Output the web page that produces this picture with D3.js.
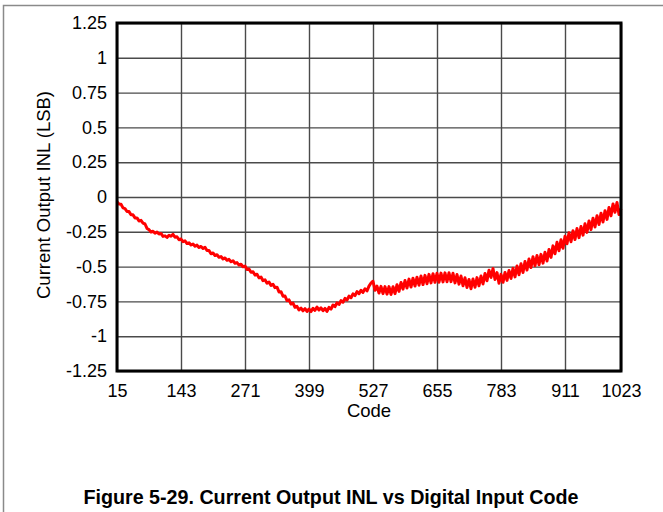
<!DOCTYPE html>
<html>
<head>
<meta charset="utf-8">
<script src="https://cdn.jsdelivr.net/npm/d3@7"></script>
<style>
  body { margin: 0; background: #fff; }
  text { font-family: "Liberation Sans", Arial, sans-serif; fill: #000; }
</style>
</head>
<body>
<div id="chart"></div>
<script>
// Current Output INL vs Digital Input Code

// tick values
var xTicks = [15, 143, 271, 399, 527, 655, 783, 911, 1023];
var yTicks = [-1.25, -1, -0.75, -0.5, -0.25, 0, 0.25, 0.5, 0.75, 1, 1.25];

// codes measured, every 4th code from 15 to 1023
var codeStart = 15;
var codeStep = 4;

// INL (LSB), one per code above
var inl = [
  -0.035, -0.050, -0.052, -0.078, -0.083, -0.104, -0.105, -0.128, -0.128, -0.150,
  -0.150, -0.172, -0.168, -0.188, -0.194, -0.226, -0.234, -0.252, -0.246, -0.260,
  -0.252, -0.266, -0.262, -0.283, -0.279, -0.290, -0.275, -0.282, -0.268, -0.289,
  -0.286, -0.307, -0.302, -0.321, -0.315, -0.334, -0.329, -0.345, -0.338, -0.354,
  -0.346, -0.363, -0.355, -0.370, -0.361, -0.384, -0.384, -0.408, -0.402, -0.420,
  -0.415, -0.433, -0.428, -0.445, -0.438, -0.455, -0.448, -0.465, -0.458, -0.476,
  -0.471, -0.489, -0.483, -0.501, -0.496, -0.521, -0.517, -0.541, -0.537, -0.561,
  -0.555, -0.581, -0.575, -0.601, -0.595, -0.619, -0.611, -0.635, -0.627, -0.651,
  -0.648, -0.682, -0.680, -0.713, -0.711, -0.745, -0.739, -0.769, -0.762, -0.792,
  -0.786, -0.811, -0.798, -0.818, -0.802, -0.822, -0.805, -0.823, -0.800, -0.814,
  -0.791, -0.812, -0.796, -0.817, -0.800, -0.822, -0.793, -0.805, -0.776, -0.788,
  -0.760, -0.772, -0.744, -0.756, -0.728, -0.740, -0.712, -0.724, -0.696, -0.708,
  -0.680, -0.695, -0.670, -0.685, -0.659, -0.674, -0.640, -0.618, -0.605, -0.670,
  -0.640, -0.690, -0.642, -0.694, -0.644, -0.698, -0.644, -0.700, -0.645, -0.694,
  -0.630, -0.678, -0.614, -0.662, -0.600, -0.654, -0.590, -0.647, -0.583, -0.640,
  -0.576, -0.634, -0.568, -0.629, -0.563, -0.623, -0.556, -0.617, -0.551, -0.613,
  -0.548, -0.612, -0.547, -0.610, -0.545, -0.609, -0.544, -0.608, -0.548, -0.617,
  -0.557, -0.626, -0.568, -0.638, -0.580, -0.650, -0.592, -0.659, -0.589, -0.648,
  -0.579, -0.638, -0.568, -0.625, -0.549, -0.602, -0.526, -0.578, -0.514, -0.592,
  -0.543, -0.619, -0.556, -0.613, -0.542, -0.599, -0.528, -0.585, -0.512, -0.574,
  -0.496, -0.558, -0.480, -0.542, -0.464, -0.525, -0.446, -0.507, -0.429, -0.493,
  -0.420, -0.487, -0.412, -0.475, -0.397, -0.460, -0.377, -0.434, -0.351, -0.408,
  -0.325, -0.386, -0.307, -0.368, -0.282, -0.336, -0.257, -0.321, -0.242, -0.306,
  -0.227, -0.292, -0.212, -0.274, -0.192, -0.254, -0.172, -0.234, -0.152, -0.215,
  -0.134, -0.197, -0.116, -0.179, -0.098, -0.161, -0.076, -0.135, -0.050, -0.110,
  -0.040, -0.125, -0.085
];

var data = inl.map(function(v, i) {
  return { code: codeStart + i * codeStep, inl: v };
});

// svg container
var svgWidth = 663;
var svgHeight = 512;

// plot box
var margin = { top: 23, right: 42, bottom: 141, left: 117 };
var chartWidth = svgWidth - margin.left - margin.right;
var chartHeight = svgHeight - margin.top - margin.bottom;

var svg = d3.select("#chart").append("svg")
  .attr("width", svgWidth)
  .attr("height", svgHeight);

// outer frame (left and top edges only are visible)
svg.append("path")
  .attr("d", "M3.5,512 V5.5 H663")
  .attr("fill", "none")
  .attr("stroke", "#8a8a8a")
  .attr("stroke-width", 1.5);

var chartGroup = svg.append("g")
  .attr("transform", `translate(${margin.left}, ${margin.top})`);

// scales
var xScale = d3.scaleLinear()
  .domain([15, 1023])
  .range([0, chartWidth]);

var yScale = d3.scaleLinear()
  .domain([-1.25, 1.25])
  .range([chartHeight, 0]);

// axes with grid lines
var bottomAxis = d3.axisBottom(xScale)
  .tickValues(xTicks)
  .tickSize(-chartHeight)
  .tickPadding(13)
  .tickFormat(d3.format("d"));

var leftAxis = d3.axisLeft(yScale)
  .tickValues(yTicks)
  .tickSize(-chartWidth)
  .tickPadding(10)
  .tickFormat(function(d) { return String(d); });

var xAxisG = chartGroup.append("g")
  .attr("transform", `translate(0, ${chartHeight})`)
  .call(bottomAxis);

var yAxisG = chartGroup.append("g")
  .call(leftAxis);

[xAxisG, yAxisG].forEach(function(g) {
  g.select(".domain").remove();
  g.selectAll(".tick line")
    .attr("stroke", "#4a4a4a")
    .attr("stroke-width", 1.4);
  g.selectAll(".tick text")
    .style("font-size", "18px")
    .style("font-family", "'Liberation Sans', Arial, sans-serif")
    .attr("fill", "#000");
});

// data line
var line = d3.line()
  .x(d => xScale(d.code))
  .y(d => yScale(d.inl));

chartGroup.append("path")
  .datum(data)
  .attr("d", line)
  .attr("fill", "none")
  .attr("stroke", "#ff0000")
  .attr("stroke-width", 3)
  .attr("stroke-linejoin", "round");

// plot border
chartGroup.append("rect")
  .attr("x", 0)
  .attr("y", 0)
  .attr("width", chartWidth)
  .attr("height", chartHeight)
  .attr("fill", "none")
  .attr("stroke", "#000")
  .attr("stroke-width", 3);

// axis labels
chartGroup.append("text")
  .attr("transform", `translate(${-67}, ${chartHeight / 2 - 2}) rotate(-90)`)
  .attr("text-anchor", "middle")
  .style("font-size", "18.5px")
  .text("Current Output INL (LSB)");

chartGroup.append("text")
  .attr("x", chartWidth / 2)
  .attr("y", chartHeight + 46)
  .attr("text-anchor", "middle")
  .style("font-size", "18.5px")
  .text("Code");

// figure caption
svg.append("text")
  .attr("x", 331)
  .attr("y", 504)
  .attr("text-anchor", "middle")
  .style("font-size", "19.7px")
  .style("font-weight", "bold")
  .text("Figure 5-29. Current Output INL vs Digital Input Code");
</script>
</body>
</html>
